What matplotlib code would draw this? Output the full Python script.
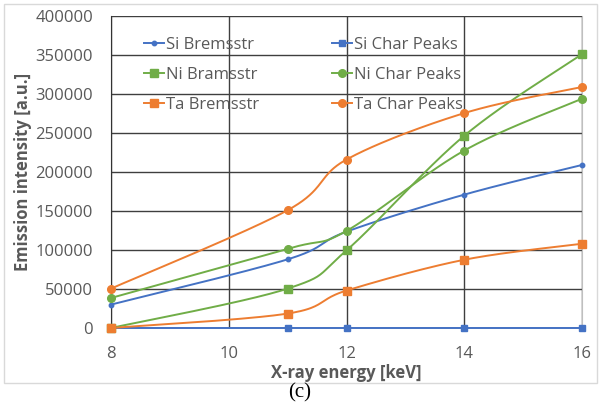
import numpy as np
import matplotlib
matplotlib.use("Agg")
import matplotlib.pyplot as plt
from matplotlib.lines import Line2D
from matplotlib.patches import Rectangle

plt.rcParams['font.family'] = ['Open Sans', 'DejaVu Sans']

energy = [8, 11, 12, 14, 16]
si_brems = [30000, 88000, 123500, 171000, 209000]
si_char = [0, 0, 0, 0, 0]
ni_brems = [0, 50500, 99500, 246500, 351000]
ni_char = [38500, 101500, 124500, 227500, 294000]
ta_brems = [0, 18500, 48000, 87500, 108000]
ta_char = [50500, 151000, 216000, 275500, 309000]

labels = ["Si Bremsstr", "Si Char Peaks", "Ni Bramsstr", "Ni Char Peaks",
          "Ta Bremsstr", "Ta Char Peaks"]
x_ticks = [8, 10, 12, 14, 16]
y_ticks = list(range(0, 400001, 50000))

BLUE = "#4472C4"
GREEN = "#70AD47"
ORANGE = "#ED7D31"
TEXT = "#595959"

XMIN, XMAX, YMIN, YMAX = 8, 16, 0, 400000


def smooth_curve(xs, ys, width=471.0, height=312.0, n=40):
    """Bezier smoothing (spreadsheet-style) in screen-proportional units."""
    px = (np.asarray(xs, float) - XMIN) / (XMAX - XMIN) * width
    py = (np.asarray(ys, float) - YMIN) / (YMAX - YMIN) * height
    P = np.column_stack([px, py])
    m = len(P)
    out = []
    t = np.linspace(0, 1, n)[:, None]
    for i in range(m - 1):
        p0 = P[i - 1] if i > 0 else P[i]
        p3 = P[i + 2] if i + 2 < m else P[i + 1]
        b0 = P[i]
        b3 = P[i + 1]
        b1 = b0 + (b3 - p0) / 6.0
        b2 = b3 - (p3 - b0) / 6.0
        seg = ((1 - t) ** 3) * b0 + 3 * ((1 - t) ** 2) * t * b1 \
            + 3 * (1 - t) * t ** 2 * b2 + t ** 3 * b3
        out.append(seg if i == 0 else seg[1:])
    curve = np.vstack(out)
    cx = curve[:, 0] / width * (XMAX - XMIN) + XMIN
    cy = curve[:, 1] / height * (YMAX - YMIN) + YMIN
    return cx, cy


fig = plt.figure(figsize=(6.0, 4.04), dpi=100)
fig.patch.set_facecolor("white")

# chart frame
fig.add_artist(Rectangle((4 / 600, 21 / 404), 593 / 600, 379 / 404,
                         transform=fig.transFigure, fill=False,
                         edgecolor="#d9d9d9", linewidth=1.0))

ax = fig.add_axes([111 / 600, 76 / 404, 471 / 600, 312 / 404])
ax.set_xlim(XMIN, XMAX)
ax.set_ylim(YMIN, YMAX)

series = [
    (si_brems, BLUE, "o", 3.2),
    (si_char, BLUE, "s", 4.8),
    (ni_brems, GREEN, "s", 5.5),
    (ni_char, GREEN, "o", 5.5),
    (ta_brems, ORANGE, "s", 5.5),
    (ta_char, ORANGE, "o", 5.5),
]

handles = []
for (vals, color, marker, ms), label in zip(series, labels):
    cx, cy = smooth_curve(energy, vals)
    ax.plot(cx, cy, color=color, lw=1.4, zorder=3, clip_on=False)
    ax.plot(energy, vals, linestyle="none", marker=marker, ms=ms,
            color=color, zorder=4, clip_on=False)
    handles.append(Line2D([], [], color=color, lw=1.4, marker=marker,
                          ms=ms, label=label))

ax.set_xticks(x_ticks)
ax.set_yticks(y_ticks)
ax.set_yticklabels([str(v) for v in y_ticks])
ax.grid(True, color="#3f3f3f", lw=1.0, zorder=1)
ax.set_axisbelow(True)
for side in ["top", "bottom"]:
    ax.spines[side].set_visible(False)
ax.spines["left"].set_color("#333333")
ax.spines["right"].set_color("#bfbfbf")
ax.tick_params(length=0, labelsize=12, colors=TEXT)
ax.tick_params(axis="y", pad=13)
ax.tick_params(axis="x", pad=13)

ax.set_xlabel("X-ray energy [keV]", fontsize=12, fontweight="bold",
              color=TEXT)
ax.set_ylabel("Emission intensity [a.u.]", fontsize=12, fontweight="bold",
              color=TEXT)
ax.xaxis.set_label_coords(0.5, -0.143)
ax.yaxis.set_label_coords(-0.186, 0.5)
ax.xaxis.label.set_va("center")
ax.yaxis.label.set_va("center")

order = [0, 2, 4, 1, 3, 5]
ax.legend([handles[i] for i in order], [labels[i] for i in order],
          ncol=2, loc="upper left", bbox_to_anchor=(0.038, 0.98),
          frameon=False, fontsize=12, handlelength=1.2, handletextpad=0.1,
          columnspacing=4.4, labelspacing=0.82, labelcolor=TEXT)

fig.text(0.5, 11 / 404, "(c)", ha="center", va="center",
         fontsize=15, family="Liberation Serif", color="black")

fig.savefig("out.png", dpi=100)
